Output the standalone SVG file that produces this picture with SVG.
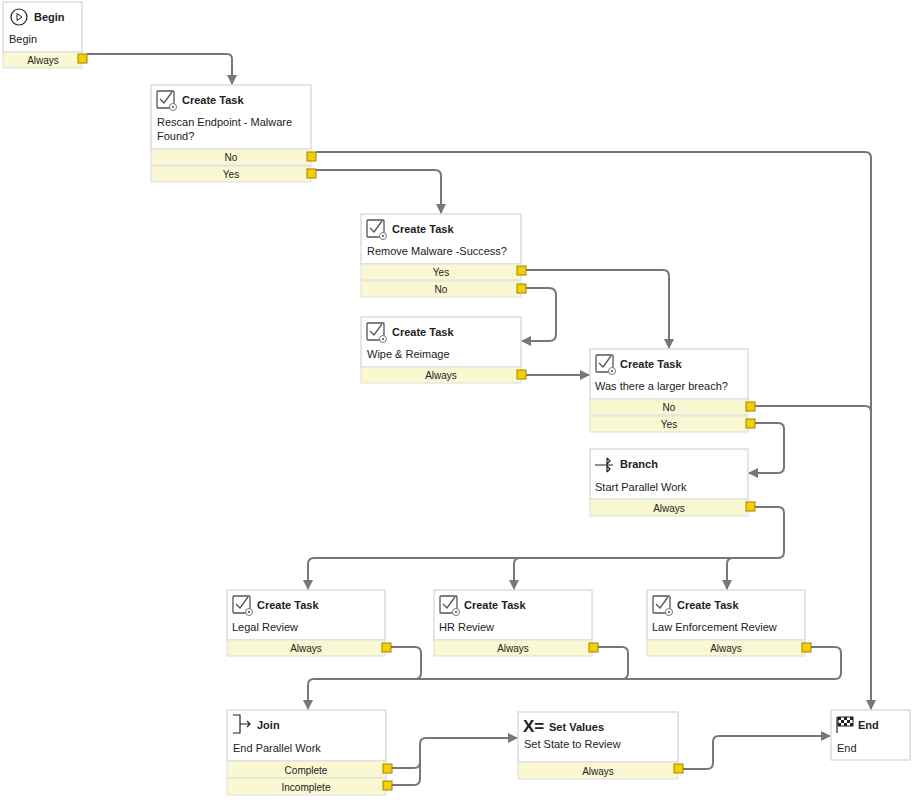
<svg xmlns="http://www.w3.org/2000/svg" width="915" height="802" viewBox="0 0 915 802">
<defs>
<marker id="ar" viewBox="0 0 10 10" refX="9" refY="5" markerWidth="5" markerHeight="5" orient="auto"><path d="M0,0 L10,5 L0,10 z" fill="#777"/></marker>
<g id="task"><rect x="1" y="1" width="17" height="17" rx="1" fill="#fff" stroke="#555" stroke-width="1.3"/><path d="M4,9 L8,13 L16,2" fill="none" stroke="#555" stroke-width="1.3"/><circle cx="17" cy="17" r="3.5" fill="#fff" stroke="#777"/><circle cx="17" cy="17" r="1.2" fill="#777"/></g>
</defs>
<style>
.b{fill:#fff;stroke:#ccc;stroke-width:1}
.r{fill:#faf7d3;stroke:#ddd;stroke-width:1}
.p{fill:#f5d000;stroke:#a08400;stroke-width:1}
.t{font-family:"Liberation Sans",Arial,sans-serif;font-size:11px;fill:#222}
.h{font-family:"Liberation Sans",Arial,sans-serif;font-size:11px;font-weight:bold;fill:#222}
.o{font-family:"Liberation Sans",Arial,sans-serif;font-size:10px;fill:#222;text-anchor:middle}
.c{fill:none;stroke:#777;stroke-width:2;stroke-linejoin:round}
</style>
<g id="connectors">
<path class="c" d="M87,54 H227 Q232,54 232,59 V84" marker-end="url(#ar)"/>
<path class="c" d="M316,152 H865 Q871,152 871,158 V709" marker-end="url(#ar)"/>
<path class="c" d="M316,170 H435 Q441,170 441,176 V213" marker-end="url(#ar)"/>
<path class="c" d="M526,270 H663 Q669,270 669,276 V348" marker-end="url(#ar)"/>
<path class="c" d="M526,288 H549 Q556,288 556,295 V334 Q556,341 549,341 H522" marker-end="url(#ar)"/>
<path class="c" d="M526,375 H589" marker-end="url(#ar)"/>
<path class="c" d="M753,406 H865 Q871,406 871,412"/>
<path class="c" d="M753,423 H778 Q784,423 784,429 V467 Q784,473 778,473 H749" marker-end="url(#ar)"/>
<path class="c" d="M753,507 H778 Q784,507 784,513 V552 Q784,558 778,558 H314 Q308,558 308,564 V589" marker-end="url(#ar)"/>
<path class="c" d="M520,558 Q514,558 514,564 V589" marker-end="url(#ar)"/>
<path class="c" d="M733,558 Q727,558 727,564 V589" marker-end="url(#ar)"/>
<path class="c" d="M390,647 H415 Q421,647 421,653 V673 Q421,679 415,679 H314 Q308,679 308,685 V709" marker-end="url(#ar)"/>
<path class="c" d="M597,647 H622 Q628,647 628,653 V673 Q628,679 622,679 H415"/>
<path class="c" d="M810,647 H835 Q841,647 841,653 V673 Q841,679 835,679 H622"/>
<path class="c" d="M391,768 H414 Q420,768 420,762 V744 Q420,738 426,738 H517" marker-end="url(#ar)"/>
<path class="c" d="M391,785 H414 Q420,785 420,779 V762"/>
<path class="c" d="M683,769 H707 Q713,769 713,763 V742 Q713,736 719,736 H830" marker-end="url(#ar)"/>
</g>
<g id="begin">
<rect class="b" x="3" y="2" width="79" height="50"/>
<circle cx="19" cy="17" r="8" fill="none" stroke="#222" stroke-width="1.2"/><path d="M17,13.5 L22,17 L17,20.5 z" fill="none" stroke="#222"/>
<text class="h" x="34" y="21">Begin</text><text class="t" x="9" y="43">Begin</text>
<rect class="r" x="3" y="52" width="79" height="16"/><text class="o" x="43" y="64">Always</text>
<rect class="p" x="78" y="54" width="9" height="9"/>
</g>
<g id="ct1">
<rect class="b" x="151" y="85" width="160" height="64"/><use href="#task" x="156" y="90"/>
<text class="h" x="182" y="104">Create Task</text><text class="t" x="157" y="126">Rescan Endpoint - Malware</text><text class="t" x="157" y="140">Found?</text>
<rect class="r" x="151" y="149" width="160" height="16"/><text class="o" x="231" y="161">No</text>
<rect class="r" x="151" y="166" width="160" height="16"/><text class="o" x="231" y="178">Yes</text>
<rect class="p" x="307" y="152" width="9" height="9"/><rect class="p" x="307" y="169" width="9" height="9"/>
</g>
<g id="ct2">
<rect class="b" x="361" y="214" width="160" height="50"/><use href="#task" x="366" y="219"/>
<text class="h" x="392" y="233">Create Task</text><text class="t" x="367" y="255">Remove Malware -Success?</text>
<rect class="r" x="361" y="264" width="160" height="16"/><text class="o" x="441" y="276">Yes</text>
<rect class="r" x="361" y="281" width="160" height="16"/><text class="o" x="441" y="293">No</text>
<rect class="p" x="517" y="266" width="9" height="9"/><rect class="p" x="517" y="284" width="9" height="9"/>
</g>
<g id="wipe">
<rect class="b" x="361" y="317" width="160" height="50"/><use href="#task" x="366" y="322"/>
<text class="h" x="392" y="336">Create Task</text><text class="t" x="367" y="358">Wipe &amp; Reimage</text>
<rect class="r" x="361" y="367" width="160" height="16"/><text class="o" x="441" y="379">Always</text>
<rect class="p" x="517" y="370" width="9" height="9"/>
</g>
<g id="breach">
<rect class="b" x="590" y="349" width="158" height="50"/><use href="#task" x="595" y="354"/>
<text class="h" x="620" y="368">Create Task</text><text class="t" x="595" y="390">Was there a larger breach?</text>
<rect class="r" x="590" y="399" width="158" height="16"/><text class="o" x="669" y="411">No</text>
<rect class="r" x="590" y="416" width="158" height="16"/><text class="o" x="669" y="428">Yes</text>
<rect class="p" x="746" y="402" width="9" height="9"/><rect class="p" x="746" y="419" width="9" height="9"/>
</g>
<g id="branch">
<rect class="b" x="590" y="449" width="158" height="50"/>
<path d="M595,465 H613 M607,458 L610,461 L607,464 M607,466 L610,469 L607,472 M607,458 V472" fill="none" stroke="#222" stroke-width="1.2"/>
<text class="h" x="620" y="468">Branch</text><text class="t" x="595" y="491">Start Parallel Work</text>
<rect class="r" x="590" y="499" width="158" height="17"/><text class="o" x="669" y="512">Always</text>
<rect class="p" x="746" y="502" width="9" height="9"/>
</g>
<g id="legal">
<rect class="b" x="227" y="590" width="158" height="50"/><use href="#task" x="232" y="595"/>
<text class="h" x="257" y="609">Create Task</text><text class="t" x="232" y="631">Legal Review</text>
<rect class="r" x="227" y="640" width="158" height="16"/><text class="o" x="306" y="652">Always</text>
<rect class="p" x="382" y="643" width="9" height="9"/>
</g>
<g id="hr">
<rect class="b" x="434" y="590" width="158" height="50"/><use href="#task" x="439" y="595"/>
<text class="h" x="464" y="609">Create Task</text><text class="t" x="439" y="631">HR Review</text>
<rect class="r" x="434" y="640" width="158" height="16"/><text class="o" x="513" y="652">Always</text>
<rect class="p" x="589" y="643" width="9" height="9"/>
</g>
<g id="law">
<rect class="b" x="647" y="590" width="158" height="50"/><use href="#task" x="652" y="595"/>
<text class="h" x="677" y="609">Create Task</text><text class="t" x="652" y="631">Law Enforcement Review</text>
<rect class="r" x="647" y="640" width="158" height="16"/><text class="o" x="726" y="652">Always</text>
<rect class="p" x="802" y="643" width="9" height="9"/>
</g>
<g id="join">
<rect class="b" x="227" y="710" width="159" height="51"/>
<path d="M233,715 H240 V733 H233 M240,724 H250 M247,721 L250,724 L247,727" fill="none" stroke="#222" stroke-width="1.2"/>
<text class="h" x="257" y="729">Join</text><text class="t" x="233" y="752">End Parallel Work</text>
<rect class="r" x="227" y="761" width="159" height="17"/><text class="o" x="306" y="774">Complete</text>
<rect class="r" x="227" y="778" width="159" height="17"/><text class="o" x="306" y="791">Incomplete</text>
<rect class="p" x="383" y="764" width="9" height="9"/><rect class="p" x="383" y="781" width="9" height="9"/>
</g>
<g id="setvalues">
<rect class="b" x="518" y="712" width="160" height="50"/>
<text x="523" y="732" font-family="Liberation Sans,Arial,sans-serif" font-size="17" font-weight="bold" fill="#222">X=</text>
<text class="h" x="549" y="731">Set Values</text><text class="t" x="524" y="748">Set State to Review</text>
<rect class="r" x="518" y="762" width="160" height="17"/><text class="o" x="598" y="775">Always</text>
<rect class="p" x="674" y="764" width="9" height="9"/>
</g>
<g id="end">
<rect class="b" x="831" y="710" width="79" height="50"/>
<path d="M837,733 V717" stroke="#222" stroke-width="1.2"/>
<rect x="838" y="717" width="15" height="9" fill="#fff" stroke="#222"/>
<path d="M838,717h3v3h-3z M844,717h3v3h-3z M850,717h3v3h-3z M841,720h3v3h-3z M847,720h3v3h-3z M838,723h3v3h-3z M844,723h3v3h-3z M850,723h3v3h-3z" fill="#222"/>
<text class="h" x="858" y="729">End</text><text class="t" x="837" y="752">End</text>
</g>
</svg>
